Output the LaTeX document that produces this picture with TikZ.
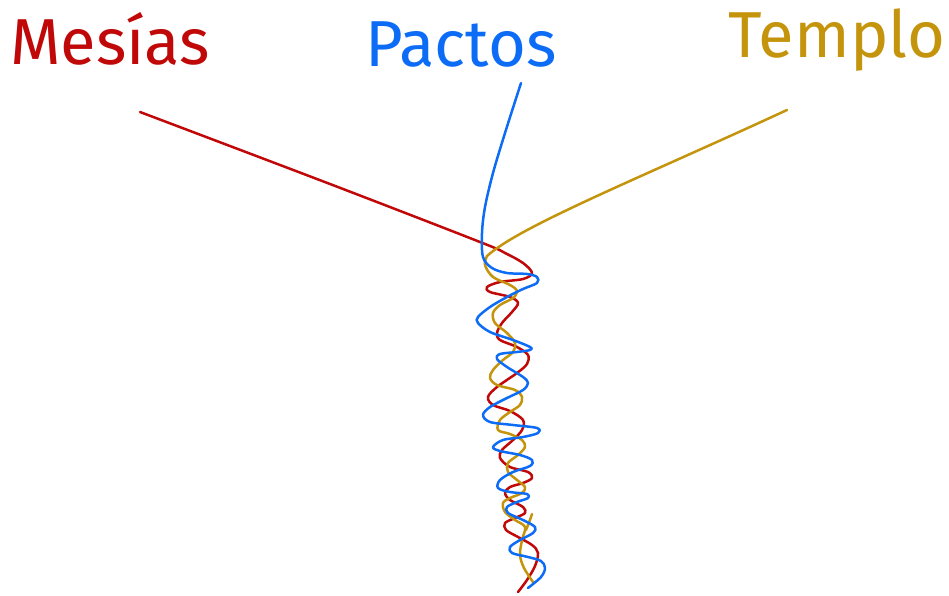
\documentclass[tikz,border=0pt]{standalone}
\usepackage{fontspec}
\setmainfont{Fira Sans}
\definecolor{mred}{RGB}{192,8,8}
\definecolor{mblue}{RGB}{12,108,245}
\definecolor{mgold}{RGB}{196,148,12}
\tikzset{
  lbl/.style={anchor=base, inner sep=0pt, font=\fontsize{65}{67}\selectfont},
  strand/.style={line width=2.5pt, line cap=round, line join=round}
}
\begin{document}
\begin{tikzpicture}[x=1pt,y=-1pt]
\useasboundingbox (0,0) rectangle (949,596);
\node[lbl, text=mred] (mesias) at (110,65) {Mesías};
\node[lbl, text=mblue] (pactos) at (461,67) {Pactos};
\node[lbl, text=mgold] (templo) at (837,58) {Templo};
\coordinate (rs) at (140,112);
\coordinate (bs) at (521,83);
\coordinate (gs) at (787,110);
\coordinate (gj) at (487,256);
% red strand
\draw[strand, mred] plot[smooth, tension=0.55] coordinates {
 (rs) (330,184) (480,242) (505,253) (523,263) (532,273) (523,279) (500,282) (487,287) (490,292)
 (510,297) (518,303) (512,312) (502,323) (497,333) (500,340) (517,347) (528,355) (527,364)
 (517,373) (497,387) (488,397) (493,405) (510,411) (523,420) (522,430) (513,440) (502,450)
 (500,458) (510,467) (528,472) (532,478) (523,483) (510,487) (505,493) (510,500) (523,507)
 (525,513) (515,518) (505,523) (506,530) (518,537) (532,545) (538,553) (535,566) (527,580) (518,592)};
% gold strand
\draw[strand, mgold] (gs) .. controls (640,178) and (520,226) .. (gj)
 plot[smooth, tension=0.55] coordinates {
 (gj) (485,265) (493,277) (510,285) (517,291)
 (513,298) (500,305) (493,313) (495,323) (507,333) (515,343) (513,352) (503,360) (493,370)
 (490,378) (497,385) (515,390) (522,397) (520,405) (510,412) (500,420) (498,430) (510,434)
 (522,440) (525,447) (518,455) (508,463) (508,472) (517,480) (525,487) (522,493) (510,498)
 (503,503) (505,512) (515,520) (525,527) (522,540) (520,555) (524,568) (533,582)};
\coordinate (gt) at (532,514);
\draw[strand, mgold] (gt) .. controls (530,520) .. (526,530);
% blue strand
\draw[strand, mblue] plot[smooth, tension=0.55] coordinates {
 (bs) (505,133) (493,173) (485,207) (482,233) (483,257) (492,268) (507,273) (527,274) (537,277)
 (537,283) (523,289) (507,297) (490,307) (478,317) (478,323) (490,332) (513,340) (530,347)
 (530,350) (517,352) (500,354) (497,359) (507,367) (523,377) (528,383) (523,390) (507,398)
 (490,407) (483,415) (490,422) (513,425) (537,428) (538,433) (523,437) (503,440) (493,447)
 (500,451) (520,455) (532,460) (530,466) (513,472) (500,480) (498,488) (510,492) (527,494)
 (528,498) (517,502) (507,507) (508,513) (523,520) (535,527) (533,533) (520,540) (510,547)
 (512,553) (528,557) (541,561) (545,568) (541,577) (528,588)};
\end{tikzpicture}
\end{document}
